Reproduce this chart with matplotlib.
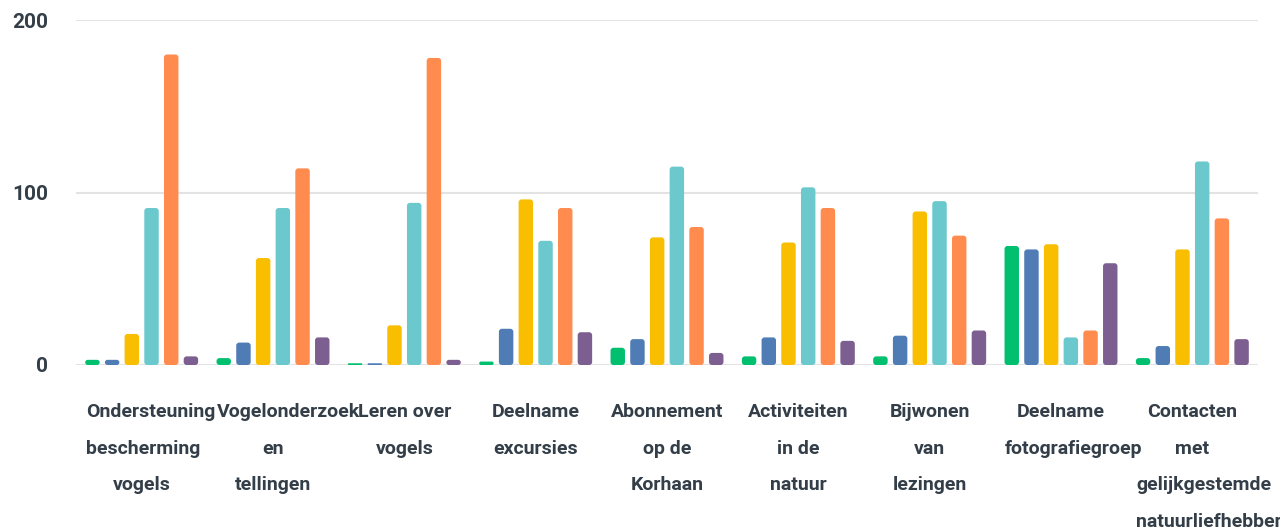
import numpy as np
import matplotlib.pyplot as plt
from matplotlib.patches import FancyBboxPatch

plt.rcParams['font.family'] = ['Roboto', 'DejaVu Sans']

categories = [
    "Ondersteuning bescherming vogels",
    "Vogelonderzoek en tellingen",
    "Leren over vogels",
    "Deelname excursies",
    "Abonnement op de Korhaan",
    "Activiteiten in de natuur",
    "Bijwonen van lezingen",
    "Deelname fotografiegroep",
    "Contacten met gelijkgestemde natuurliefhebbers",
]
# wrapped lines as shown under the axis
label_lines = [
    ["Ondersteuning", "bescherming", "vogels"],
    ["Vogelonderzoek", "en", "tellingen"],
    ["Leren over", "vogels"],
    ["Deelname", "excursies"],
    ["Abonnement", "op de", "Korhaan"],
    ["Activiteiten", "in de", "natuur"],
    ["Bijwonen", "van", "lezingen"],
    ["Deelname", "fotografiegroep"],
    ["Contacten", "met", "gelijkgestemde", "natuurliefhebbers"],
]

green = [3, 4, 1, 2, 10, 5, 5, 69, 4]
blue = [3, 13, 1, 21, 15, 16, 17, 67, 11]
yellow = [18, 62, 23, 96, 74, 71, 89, 70, 67]
teal = [91, 91, 94, 72, 115, 103, 95, 16, 118]
orange = [180, 114, 178, 91, 80, 91, 75, 20, 85]
purple = [5, 16, 3, 19, 7, 14, 20, 59, 15]

series = [green, blue, yellow, teal, orange, purple]
colors = ['#00bf6f', '#507cb6', '#f9be00', '#6bc8cd', '#ff8b4f', '#7d5e90']

W, H = 1280, 531
fig = plt.figure(figsize=(W / 100, H / 100), dpi=100)
ax = fig.add_axes([76 / W, (H - 365) / H, (1258 - 76) / W, 345 / H])

x = np.arange(len(categories))
slot = 0.15
bw = 0.11
ax.set_xlim(-0.5, len(categories) - 0.5)
ax.set_ylim(0, 200)

px_x = ax.bbox.width / len(categories)
px_y = ax.bbox.height / 200
aspect = px_x / px_y
r = 3.0 / px_x

for i, (vals, c) in enumerate(zip(series, colors)):
    bars = ax.bar(x + (i - 2.5) * slot, vals, width=bw, color=c)
    for p in list(bars):
        x0, y0, w, h = p.get_x(), p.get_y(), p.get_width(), p.get_height()
        p.remove()
        rr = min(r, w / 2, h / aspect / 2)
        ax.add_patch(FancyBboxPatch((x0, y0), w, h,
                                    boxstyle=f"round,pad=0,rounding_size={rr}",
                                    mutation_aspect=aspect,
                                    fc=c, ec='none', zorder=3))

ax.set_yticks([0, 100, 200])
ax.grid(axis='y', color='#e3e3e3', linewidth=1.5, zorder=0)
ax.set_axisbelow(True)
for s in ax.spines.values():
    s.set_visible(False)
ax.tick_params(axis='y', length=0, pad=20, labelsize=15, labelcolor='#333e48')
for t in ax.get_yticklabels():
    t.set_fontweight('bold')
ax.set_xticks([])

# category labels, centred; lines wider than the box start at its left edge
renderer = fig.canvas.get_renderer()
box_w = 112
line_y = [412, 449, 485, 522]
for gi, lines in enumerate(label_lines):
    cx_px = ax.transData.transform((gi, 0))[0]
    for li, line in enumerate(lines):
        yf = 1 - line_y[li] / H
        t = fig.text(cx_px / W, yf, line, ha='center', va='center',
                     fontsize=14, color='#333e48', fontweight='bold')
        wpx = t.get_window_extent(renderer).width
        if wpx > box_w:
            t.set_ha('left')
            t.set_x((cx_px - box_w / 2) / W)

fig.savefig('out.png', dpi=100)
